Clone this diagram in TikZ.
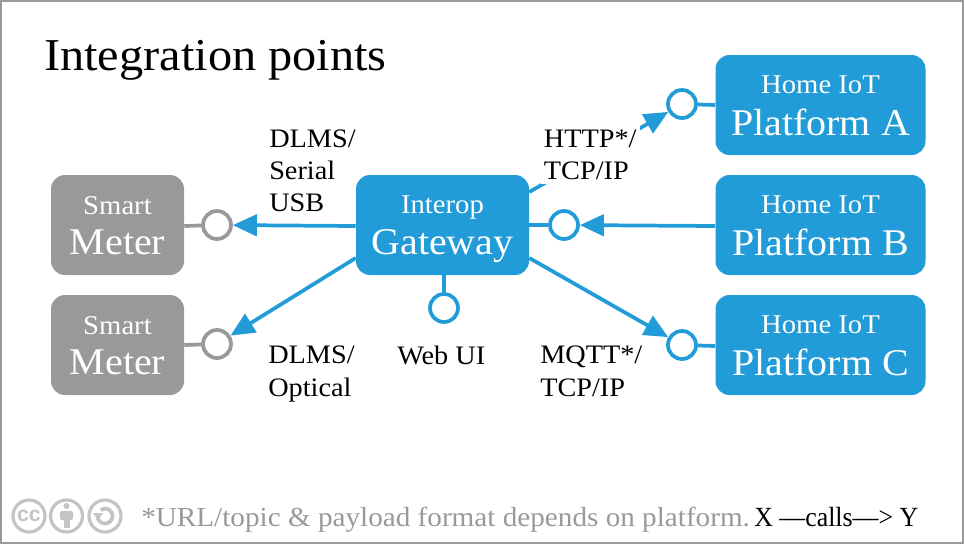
\documentclass[tikz,border=0pt]{standalone}
\usepackage{fontspec}
\setmainfont[FakeStretch=1.06]{Liberation Serif}
\setsansfont{Liberation Sans}
\usetikzlibrary{arrows.meta}
\definecolor{iotblue}{HTML}{219CD8}
\definecolor{metergray}{HTML}{999999}
\definecolor{ccgray}{HTML}{C4C4C4}
\newcommand{\fs}[1]{\fontsize{#1}{#1}\selectfont}
\tikzset{
  x=0.75pt,y=-0.75pt,
  box/.style={rounded corners=10.5pt,minimum width=#1,align=center,text=white,inner sep=0pt,minimum height=75pt},
  boxb/.style={box=157.5pt,fill=iotblue},
  boxc/.style={box=129.75pt,fill=iotblue},
  boxg/.style={box=99.75pt,fill=metergray},
  port/.style={circle,draw=#1,fill=white,line width=2.8pt,minimum size=21pt,inner sep=0pt},
  wire/.style={draw=#1,line width=2.8pt},
  arr/.style={wire=iotblue,-{Triangle[length=18pt,width=16pt]}},
  lab/.style={align=left,anchor=north west,inner sep=0pt,font=\fs{20},text=black},
  ccring/.style={draw=ccgray,line width=2.4pt,fill=white,circle,minimum size=24pt,inner sep=0pt},
}
\newcommand{\two}[2]{{\fs{20.3}\rule{0pt}{20pt}\vphantom{Hp}#1}\\[6.5pt]{\fs{28.3}\vphantom{Hp}#2}}
\begin{document}
\begin{tikzpicture}
\useasboundingbox (0,0) rectangle (964,544);
\node[draw=metergray,line width=1.5pt,minimum width=721.5pt,minimum height=406.5pt,inner sep=0pt] (frame) at (482,272) {};
\node[anchor=base west,inner sep=0pt,font=\fs{34.2}] (title) at (44,70) {Integration points};

\node[boxb] (pa) at (820.5,105) {\two{Home IoT}{Platform A}};
\node[boxb] (pb) at (820.5,225) {\two{Home IoT}{Platform B}};
\node[boxb] (pc) at (820.5,345) {\two{Home IoT}{Platform C}};
\node[boxc] (gw) at (442.5,225) {\two{Interop}{Gateway}};
\node[boxg] (m1) at (117.5,225) {\two{Smart}{Meter}};
\node[boxg] (m2) at (117.5,345) {\two{Smart}{Meter}};

\node[port=iotblue] (ca) at (682,104) {};
\node[port=iotblue] (cb) at (564,225) {};
\node[port=iotblue] (cc) at (682,345) {};
\node[port=iotblue] (cw) at (444,308) {};
\node[port=metergray] (c1) at (217,225) {};
\node[port=metergray] (c2) at (217,344) {};

\draw[wire=iotblue] (pa.west |- 0,105) -- (ca);
\draw[wire=iotblue] (gw.east |- 0,225) -- (cb);
\draw[wire=iotblue] (pc.west |- 0,346) -- (cc);
\draw[wire=iotblue] (gw.south -| cw) -- (cw);
\draw[wire=metergray] (m1.east |- 0,226) -- (c1);
\draw[wire=metergray] (m2.east |- 0,345) -- (c2);

\draw[arr] (gw.east |- 0,192) -- (ca);
\draw[arr] (pb.west |- 0,226) -- (cb);
\draw[arr] (gw.east |- 0,258) -- (cc);
\draw[arr] (gw.west |- 0,226) -- (c1);
\draw[arr] (gw.west |- 0,258) -- (c2);

\node[lab,fill=white,inner xsep=2pt,inner ysep=3pt,text width=70pt] (l1) at (541,126) {HTTP*/\\[4pt]TCP/IP};
\node[lab] (l2) at (269,130) {DLMS/\\[4pt]Serial\\[4pt]USB};
\node[lab] (l3) at (268,346) {DLMS/\\[4.5pt]Optical};
\node[lab] (l4) at (397,346) {Web UI};
\node[lab] (l5) at (540,346) {MQTT*/\\[4.5pt]TCP/IP};

\node[ccring,font=\sffamily\bfseries\fs{16},text=ccgray] (i1) at (29,516) {cc};
\node[ccring] (i2) at (66.5,516) {};
\node[ccring] (i3) at (105,516) {};
\fill[ccgray] (66.5,506) circle (3);
\fill[ccgray,rounded corners=1pt] (60,511) rectangle (73,520);
\fill[ccgray] (63.5,520) rectangle (69.5,528);
\draw[ccgray,line width=2.8pt] (97.5,516) arc[start angle=180,end angle=-125,radius=7.5];
\fill[ccgray] (93,513) -- (103,513) -- (98,520) -- cycle;

\node[anchor=base west,inner sep=0pt,font=\fs{20.65},text=metergray] (fn) at (141,526) {*URL/topic \& payload format depends on platform.};
\node[anchor=base west,inner sep=0pt,font=\fs{20.8},text=black] (key) at (754,526) {\scalebox{0.88}[1]{X —calls—> Y}};
\end{tikzpicture}
\end{document}
